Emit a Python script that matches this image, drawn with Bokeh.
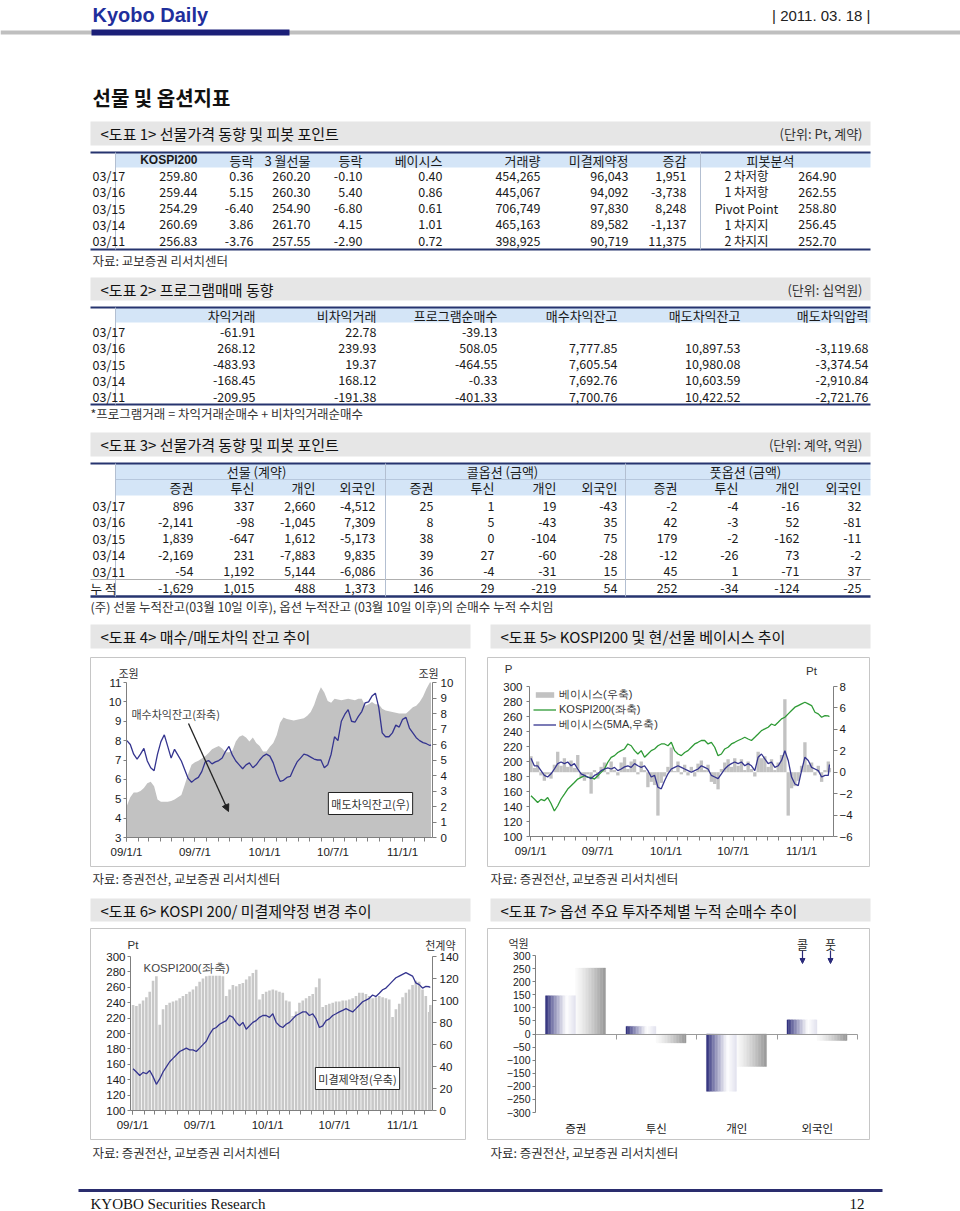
import pandas as pd
from bokeh.plotting import figure
from bokeh.layouts import column, row
from bokeh.models import (Range1d, LinearAxis, FixedTicker, Label, Arrow, NormalHead,
                          Spacer, Legend, LegendItem, CustomJSTickFormatter)
from bokeh.core.properties import value
from bokeh.embed import file_html
from bokeh.resources import INLINE

# ------------------------------------------------------------------ data
ROW_DATES = ["03/17", "03/16", "03/15", "03/14", "03/11"]

# <도표 1>
T1_KOSPI200 = [259.80, 259.44, 254.29, 260.69, 256.83]
T1_KOSPI_CHG = [0.36, 5.15, -6.40, 3.86, -3.76]
T1_FUTURES = [260.20, 260.30, 254.90, 261.70, 257.55]
T1_FUT_CHG = [-0.10, 5.40, -6.80, 4.15, -2.90]
T1_BASIS = [0.40, 0.86, 0.61, 1.01, 0.72]
T1_VOLUME = [454265, 445067, 706749, 465163, 398925]
T1_OPEN_INT = [96043, 94092, 97830, 89582, 90719]
T1_OI_CHG = [1951, -3738, 8248, -1137, 11375]
T1_HEADERS = ["KOSPI200", "등락", "3 월선물", "등락", "베이시스", "거래량", "미결제약정", "증감"]
T1_PIVOT_LABELS = ["2 차저항", "1 차저항", "Pivot Point", "1 차지지", "2 차지지"]
T1_PIVOT = [264.90, 262.55, 258.80, 256.45, 252.70]

# <도표 2>
T2_HEADERS = ["차익거래", "비차익거래", "프로그램순매수", "매수차익잔고", "매도차익잔고", "매도차익압력"]
T2_ARB = [-61.91, 268.12, -483.93, -168.45, -209.95]
T2_NON_ARB = [22.78, 239.93, 19.37, 168.12, -191.38]
T2_NET = [-39.13, 508.05, -464.55, -0.33, -401.33]
T2_BUY_BAL = [None, 7777.85, 7605.54, 7692.76, 7700.76]
T2_SELL_BAL = [None, 10897.53, 10980.08, 10603.59, 10422.52]
T2_SELL_PRESS = [None, -3119.68, -3374.54, -2910.84, -2721.76]

# <도표 3>  (5 days + 누적)
T3_GROUPS = ["선물 (계약)", "콜옵션 (금액)", "풋옵션 (금액)"]
T3_SUBHEADERS = ["증권", "투신", "개인", "외국인"]
FUT_SEC = [896, -2141, 1839, -2169, -54, -1629]
FUT_TRUST = [337, -98, -647, 231, 1192, 1015]
FUT_INDIV = [2660, -1045, 1612, -7883, 5144, 488]
FUT_FOREIGN = [-4512, 7309, -5173, 9835, -6086, 1373]
CALL_SEC = [25, 8, 38, 39, 36, 146]
CALL_TRUST = [1, 5, 0, 27, -4, 29]
CALL_INDIV = [19, -43, -104, -60, -31, -219]
CALL_FOREIGN = [-43, 35, 75, -28, 15, 54]
PUT_SEC = [-2, 42, 179, -12, 45, 252]
PUT_TRUST = [-4, -3, -2, -26, 1, -34]
PUT_INDIV = [-16, 52, -162, 73, -71, -124]
PUT_FOREIGN = [32, -81, -11, -2, 37, -25]

# time series (approx. every 9 days)
DATES = [
    "2009-01-02", "2009-01-11", "2009-01-20", "2009-01-29", "2009-02-07", "2009-02-16", "2009-02-25", "2009-03-06", "2009-03-15", "2009-03-24",
    "2009-04-02", "2009-04-11", "2009-04-20", "2009-04-29", "2009-05-08", "2009-05-17", "2009-05-26", "2009-06-04", "2009-06-13", "2009-06-22",
    "2009-07-01", "2009-07-10", "2009-07-19", "2009-07-28", "2009-08-06", "2009-08-15", "2009-08-24", "2009-09-02", "2009-09-11", "2009-09-20",
    "2009-09-29", "2009-10-08", "2009-10-17", "2009-10-26", "2009-11-04", "2009-11-13", "2009-11-22", "2009-12-01", "2009-12-10", "2009-12-19",
    "2009-12-28", "2010-01-06", "2010-01-15", "2010-01-24", "2010-02-02", "2010-02-11", "2010-02-20", "2010-03-01", "2010-03-10", "2010-03-19",
    "2010-03-28", "2010-04-06", "2010-04-15", "2010-04-24", "2010-05-03", "2010-05-12", "2010-05-21", "2010-05-30", "2010-06-08", "2010-06-17",
    "2010-06-26", "2010-07-05", "2010-07-14", "2010-07-23", "2010-08-01", "2010-08-10", "2010-08-19", "2010-08-28", "2010-09-06", "2010-09-15",
    "2010-09-24", "2010-10-03", "2010-10-12", "2010-10-21", "2010-10-30", "2010-11-08", "2010-11-17", "2010-11-26", "2010-12-05", "2010-12-14",
    "2010-12-23", "2011-01-01", "2011-01-10", "2011-01-19", "2011-01-28", "2011-02-06", "2011-02-15", "2011-02-24", "2011-03-05", "2011-03-14",
    "2011-03-17"]

# <도표 4> 매수차익잔고 (좌축, 조원) / 매도차익잔고 (우축, 조원)
BUY_ARB_BAL = [
    8.0, 7.8, 7.3, 7.05, 7.3, 7.6, 6.95, 6.6, 6.45, 7.3,
    7.95, 8.3, 7.7, 7.1, 7.55, 7.25, 6.95, 6.5, 6.05, 5.85,
    6.0, 6.1, 6.4, 6.9, 6.97, 6.8, 6.9, 6.97, 7.1, 7.45,
    7.7, 7.25, 6.95, 6.75, 6.55, 6.75, 6.85, 6.6, 6.75, 7.0,
    7.2, 7.3, 7.2, 6.85, 6.3, 5.9, 5.95, 6.1, 6.15, 6.55,
    6.9, 7.1, 7.3, 7.25, 7.15, 7.05, 7.0, 7.0, 6.6, 6.75,
    7.3, 8.2, 8.0, 9.0, 9.35, 9.6, 9.0, 8.95, 9.25, 9.5,
    9.95, 10.0, 10.3, 10.45, 9.7, 8.4, 8.2, 8.2, 8.4, 8.8,
    8.7, 9.1, 9.2, 8.65, 8.4, 8.15, 8.0, 7.9, 7.84, 7.75,
    7.78]
SELL_ARB_BAL = [
    2.05, 2.6, 2.9, 2.9, 3.0, 3.2, 3.5, 3.6, 3.3, 2.45,
    2.3, 2.3, 2.3, 2.35, 2.45, 2.6, 2.75, 3.4, 4.1, 4.7,
    4.85, 4.95, 5.1, 5.25, 5.45, 5.7, 5.8, 5.9, 5.75, 5.5,
    5.5, 5.6, 6.2, 6.5, 6.6, 6.45, 6.2, 6.45, 6.1, 5.9,
    5.55, 5.55, 5.85, 6.1, 6.6, 7.4, 7.75, 7.65, 7.6, 7.55,
    7.6, 7.65, 7.7, 7.85, 8.1, 8.55, 9.2, 9.7, 9.35, 8.8,
    8.7, 8.95, 8.9, 8.85, 8.9, 8.95, 8.9, 8.85, 8.95, 8.95,
    8.5, 8.6, 8.75, 8.6, 8.6, 8.3, 8.2, 8.15, 8.1, 8.05,
    8.0, 8.0, 8.0, 8.2, 8.4, 8.5, 8.75, 9.1, 9.6, 10.42,
    10.9]

# <도표 5>/<도표 6> KOSPI200 (P)
KOSPI200 = [
    154.3, 150.0, 145.4, 149.5, 147.7, 152.0, 144.0, 134.0, 141.0, 150.0,
    156.6, 163.3, 167.7, 172.0, 176.6, 178.8, 181.0, 178.8, 178.8, 176.6,
    181.0, 185.5, 190.0, 199.0, 205.6, 207.8, 212.0, 214.5, 216.7, 223.4,
    221.0, 214.5, 210.0, 214.5, 205.6, 210.0, 214.5, 216.7, 221.0, 223.4,
    223.4, 221.0, 225.6, 214.5, 210.0, 207.8, 212.0, 214.5, 219.0, 223.4,
    225.6, 228.0, 228.0, 223.4, 225.6, 219.0, 207.8, 210.0, 216.7, 219.0,
    223.4, 225.6, 228.0, 230.0, 232.3, 230.0, 228.0, 232.3, 236.7, 241.2,
    243.4, 245.7, 250.0, 248.0, 252.3, 256.8, 259.0, 263.5, 268.0, 272.4,
    274.6, 276.8, 279.0, 276.8, 274.6, 265.7, 263.5, 259.0, 261.2, 260.7,
    259.8]
# <도표 5> 베이시스 (Pt) and its 5-day average
BASIS = [
    1.5, 0.4, 1.0, -0.3, -0.8, -0.2, -0.6, 0.7, 1.9, 0.6,
    1.3, 0.5, 1.1, 0.4, 1.6, -0.5, -0.8, -0.2, -2.0, 0.2,
    -0.6, 0.5, 0.9, -0.2, 1.0, 0.2, -0.3, 0.9, 1.4, 0.3,
    1.0, 1.2, -0.2, 1.0, 0.2, -1.4, -0.9, -1.2, -4.05, -1.0,
    -0.4, 0.5, 2.3, 0.1, 1.0, -0.2, 0.7, -0.3, 0.5, -0.4,
    0.8, 1.1, 0.2, 0.7, -0.9, -1.1, -1.6, 0.3, 0.9, 1.2,
    0.5, 1.3, 0.6, 1.2, 0.2, 1.0, 0.3, -0.4, 1.9, 1.3,
    1.5, 0.5, 1.2, 0.2, 0.9, 1.6, 6.8, -4.05, -1.5, -1.3,
    -0.8, 0.6, 2.8, 0.7, 0.9, -0.3, 0.6, -0.9, 0.2, 1.01,
    0.40]
BASIS_MA5 = [
    1.3, 0.6, 0.6, 0.15, -0.3, -0.45, -0.15, 0.3, 0.8, 0.95,
    0.8, 0.95, 0.6, 0.8, 0.3, -0.15, -0.3, -0.45, -0.6, -0.3,
    -0.15, 0.15, 0.3, 0.4, 0.3, 0.45, 0.15, 0.3, 0.5, 0.6,
    0.45, 0.8, 0.6, 0.45, 0.6, 0.15, -0.45, -0.3, -1.4, -1.55,
    -0.8, -0.15, 0.3, 0.45, 0.6, 0.45, 0.3, 0.15, 0.0, 0.15,
    0.3, 0.6, 0.45, 0.3, -0.3, -0.45, -0.6, -0.15, 0.3, 0.6,
    0.8, 0.95, 0.8, 0.95, 0.6, 0.8, 0.6, 0.15, 1.4, 1.7,
    1.25, 0.8, 0.95, 0.45, 0.6, 1.1, 2.0, 1.1, -0.45, -1.1,
    -1.25, 0.15, 1.4, 1.1, 0.45, 0.3, 0.15, -0.45, -0.3, -0.3,
    0.72]
# <도표 6> 미결제약정 (천계약)
OPEN_INTEREST = [
    96, 95, 97, 100, 103, 108, 118, 122, 78, 92,
    96, 98, 99, 100, 102, 104, 106, 108, 110, 113,
    117, 120, 122, 122.5, 122.5, 122.5, 122.5, 122, 104, 110,
    114, 113, 115, 116, 119, 122, 125, 128, 101, 106,
    108, 109, 110, 109, 108, 107, 100, 99, 86, 90,
    98, 100, 102, 104, 106, 112, 120, 94, 96, 97,
    98, 99, 99, 100, 100, 101, 102, 104, 107, 107,
    106, 104, 102, 103, 104, 103, 102, 101, 85, 92,
    97, 103, 107, 110, 114, 118, 117, 110, 104, 89.6,
    96.0]

# <도표 7> 옵션 누적 순매수 (억원)
OPT_INVESTORS = ["증권", "투신", "개인", "외국인"]
CALL_CUM = [146, 29, -219, 54]
PUT_CUM = [252, -34, -124, -25]

XTICK_DATES = ["2009-01-01", "2009-07-01", "2010-01-01", "2010-07-01", "2011-01-01"]

# ------------------------------------------------------------------ styles
KR = "Noto Sans CJK KR"
NUM = "Noto Sans CJK KR"
SANS = "Liberation Sans"
SERIF = "Liberation Serif"
RULE = "#26346f"
HDR_BLUE = "#d4e5f7"
BAR_BG = "#e6e6e6"
AXIS_GRAY = "#7f7f7f"
BOX_GRAY = "#c6c6c6"
LINE_NAVY = "#34348f"
LINE_GREEN = "#2e9a35"
DAY_MS = 86400000


def ms(d):
    return pd.Timestamp(d).timestamp() * 1000


DT = pd.to_datetime(DATES)
XTICK_MS = [ms(d) for d in XTICK_DATES]
MINOR_MS = [t.timestamp() * 1000 for t in pd.date_range("2009-01-01", "2011-03-01", freq="MS")]
DATE_JS = """
const d = new Date(tick);
const y = String(d.getUTCFullYear() % 100).padStart(2, '0');
return y + '/' + (d.getUTCMonth() + 1) + '/' + d.getUTCDate();
"""


def page_fig(height, y_top, y_bottom):
    p = figure(width=960, height=height, x_range=Range1d(0, 960), y_range=Range1d(y_bottom, y_top),
               output_backend="svg", toolbar_location=None, min_border=0,
               x_axis_location=None, y_axis_location=None)
    p.grid.visible = False
    p.outline_line_color = None
    return p


def put_text(p, xs, ys, texts, font=KR, size="13px", align="left", color="#1a1a1a", style="normal"):
    p.text(x=xs, y=ys, text=texts, text_font=value(font), text_font_size=size,
           text_align=align, text_baseline="middle", text_color=color, text_font_style=style)


def hline(p, x0, x1, y, color, width):
    p.segment(x0=[x0], y0=[y], x1=[x1], y1=[y], line_color=color, line_width=width)


def vline(p, x, y0, y1, color="#b3bfd1", width=1):
    p.segment(x0=[x], y0=[y0], x1=[x], y1=[y1], line_color=color, line_width=width)


def title_bar(p, x0, x1, y0, y1, text, unit=None):
    p.quad(left=[x0], right=[x1], top=[y0], bottom=[y1], fill_color=BAR_BG, line_color=None)
    put_text(p, [x0 + 10], [(y0 + y1) / 2], [text], size="15px", color="#111111")
    if unit:
        put_text(p, [x1 - 8], [(y0 + y1) / 2], [unit], size="13px", align="right", color="#333333")


def f2(v):
    return "" if v is None else f"{v:,.2f}"


def fi(v):
    return f"{v:,}"


# ------------------------------------------------------------------ top page part
top = page_fig(655, 0, 655)
hline(top, 0, 960, 32, "#bfbfbf", 4)
hline(top, 91, 289, 32, "#1b1f78", 6)
put_text(top, [92], [14], ["Kyobo Daily"], font=SANS, size="20px", color="#1f2f9c", style="bold")
put_text(top, [870], [15], ["| 2011. 03. 18 |"], font=SANS, size="15px", align="right", color="#222222")
put_text(top, [92], [97], ["선물 및 옵션지표"], size="20px", style="bold", color="#111111")

# table 1
title_bar(top, 90, 870, 121, 145, "<도표 1> 선물가격 동향 및 피봇 포인트", "(단위: Pt, 계약)")
top.quad(left=[115], right=[870], top=[152], bottom=[167], fill_color=HDR_BLUE, line_color=None)
hline(top, 90, 870, 152, RULE, 2)
hline(top, 90, 870, 249, RULE, 2)
vline(top, 115, 152, 249)
vline(top, 700, 152, 249)
T1_X = [197, 253, 310, 362, 442, 540, 628, 686]
T1_Y = [175, 191.3, 207.6, 223.9, 240.2]
put_text(top, [T1_X[0]], [159.5], [T1_HEADERS[0]], font=SANS, size="12px", align="right", style="bold")
put_text(top, T1_X[1:], [159.5] * 7, T1_HEADERS[1:], size="13px", align="right")
put_text(top, [770], [159.5], ["피봇분석"], size="13px", align="center")
put_text(top, [92] * 5, T1_Y, ROW_DATES, font=NUM, size="12.5px")
t1_cols = [[f2(v) for v in T1_KOSPI200], [f2(v) for v in T1_KOSPI_CHG], [f2(v) for v in T1_FUTURES],
           [f2(v) for v in T1_FUT_CHG], [f2(v) for v in T1_BASIS], [fi(v) for v in T1_VOLUME],
           [fi(v) for v in T1_OPEN_INT], [fi(v) for v in T1_OI_CHG]]
for xr, col in zip(T1_X, t1_cols):
    put_text(top, [xr] * 5, T1_Y, col, font=NUM, size="12.5px", align="right")
put_text(top, [746] * 5, T1_Y, T1_PIVOT_LABELS, size="12.5px", align="center")
put_text(top, [836] * 5, T1_Y, [f2(v) for v in T1_PIVOT], font=NUM, size="12.5px", align="right")
put_text(top, [92], [260], ["자료: 교보증권 리서치센터"], size="12.5px", color="#333333")

# table 2
title_bar(top, 90, 870, 277, 300, "<도표 2> 프로그램매매 동향", "(단위: 십억원)")
top.quad(left=[115], right=[870], top=[307], bottom=[322], fill_color=HDR_BLUE, line_color=None)
hline(top, 90, 870, 307, RULE, 2)
hline(top, 90, 870, 404, RULE, 2)
vline(top, 115, 307, 404)
T2_X = [255, 376, 497, 617, 740, 868]
T2_Y = [331, 347.3, 363.6, 379.9, 396.2]
put_text(top, T2_X, [314.5] * 6, T2_HEADERS, size="13px", align="right")
put_text(top, [92] * 5, T2_Y, ROW_DATES, font=NUM, size="12.5px")
for xr, col in zip(T2_X, [T2_ARB, T2_NON_ARB, T2_NET, T2_BUY_BAL, T2_SELL_BAL, T2_SELL_PRESS]):
    put_text(top, [xr] * 5, T2_Y, [f2(v) for v in col], font=NUM, size="12.5px", align="right")
put_text(top, [90], [413], ["*프로그램거래 = 차익거래순매수 + 비차익거래순매수"], size="12.5px", color="#333333")

# table 3
title_bar(top, 90, 870, 432, 456, "<도표 3> 선물가격 동향 및 피봇 포인트", "(단위: 계약, 억원)")
top.quad(left=[115], right=[870], top=[463], bottom=[495], fill_color=HDR_BLUE, line_color=None)
hline(top, 90, 870, 463, RULE, 2)
hline(top, 115, 870, 479, "#aebfd6", 0.8)
hline(top, 90, 870, 579, "#9a9a9a", 0.8)
hline(top, 90, 870, 596, RULE, 2.5)
for xv in [115, 385, 625]:
    vline(top, xv, 463, 596)
T3_X = [193, 254, 315, 375, 433, 494, 556, 617, 677, 738, 799, 861]
T3_Y = [505, 521.4, 537.8, 554.2, 570.6, 587.5]
put_text(top, [256, 502, 745], [471] * 3, T3_GROUPS, size="13px", align="center")
put_text(top, T3_X, [487] * 12, T3_SUBHEADERS * 3, size="13px", align="right")
put_text(top, [92] * 5, T3_Y[:5], ROW_DATES, font=NUM, size="12.5px")
put_text(top, [103], [T3_Y[5]], ["누 적"], size="12.5px", align="center")
t3_cols = [FUT_SEC, FUT_TRUST, FUT_INDIV, FUT_FOREIGN, CALL_SEC, CALL_TRUST, CALL_INDIV, CALL_FOREIGN,
           PUT_SEC, PUT_TRUST, PUT_INDIV, PUT_FOREIGN]
for xr, col in zip(T3_X, t3_cols):
    put_text(top, [xr] * 6, T3_Y, [fi(v) for v in col], font=NUM, size="12.5px", align="right")
put_text(top, [90], [606], ["(주) 선물 누적잔고(03월 10일 이후), 옵션 누적잔고 (03월 10일 이후)의 순매수 누적 수치임"],
         size="12.5px", color="#333333")

title_bar(top, 90, 470, 624, 648, "<도표 4> 매수/매도차익 잔고 추이")
title_bar(top, 490, 870, 624, 648, "<도표 5> KOSPI200 및 현/선물 베이시스 추이")


# ------------------------------------------------------------------ chart helpers
def style_axis(ax, tick_out=4, standoff=3, size="11.5px", minor=False, font=SANS):
    ax.axis_line_color = AXIS_GRAY
    ax.major_tick_line_color = AXIS_GRAY
    ax.major_tick_in = 0
    ax.major_tick_out = tick_out
    ax.minor_tick_in = 0
    ax.minor_tick_out = tick_out if minor else 0
    ax.minor_tick_line_color = AXIS_GRAY if minor else None
    ax.major_label_standoff = standoff
    ax.major_label_text_font = font
    ax.major_label_text_font_size = size
    ax.major_label_text_color = "#1a1a1a"


def span_range(lo, hi, px_lo, px_hi, px_total):
    """range whose [lo, hi] falls on pixels [px_lo, px_hi] of a px_total-wide canvas"""
    k = (hi - lo) / (px_hi - px_lo)
    return Range1d(lo - px_lo * k, hi + (px_total - px_hi) * k)


def chart_box(width, height, plot_px, x_span, y_span):
    l, r, t, b = plot_px          # plot area in px from the box's top-left corner
    p = figure(width=width, height=height,
               x_range=span_range(x_span[0], x_span[1], l, r, width),
               y_range=span_range(y_span[0], y_span[1], height - b, height - t, height),
               output_backend="svg", toolbar_location=None, min_border=0,
               x_axis_location=None, y_axis_location=None)
    p.grid.visible = False
    p.outline_line_color = BOX_GRAY
    p.outline_line_width = 1
    return p


def right_range(p, plot_px, height, span):
    l, r, t, b = plot_px
    p.extra_y_ranges = {"r": span_range(span[0], span[1], height - b, height - t, height)}


def y_axis(p, side, loc, bounds, ticks, range_name="default", tick_out=3, standoff=2, size="11.5px",
           formatter=None):
    ax = LinearAxis(y_range_name=range_name, fixed_location=loc, bounds=bounds, ticker=FixedTicker(ticks=ticks))
    if formatter is not None:
        ax.formatter = formatter
    style_axis(ax, tick_out=tick_out, standoff=standoff, size=size)
    p.add_layout(ax, side)
    return ax


def date_axis(p, loc, x_span):
    ax = LinearAxis(fixed_location=loc, bounds=x_span,
                    ticker=FixedTicker(ticks=XTICK_MS, minor_ticks=MINOR_MS),
                    formatter=CustomJSTickFormatter(code=DATE_JS))
    style_axis(ax, tick_out=4, standoff=4, minor=True)
    p.add_layout(ax, "below")


def slabel(p, sx, sy, text, size="11px", align="left", color="#333333", font=KR, **kw):
    p.add_layout(Label(x=sx, y=sy, x_units="screen", y_units="screen", text=text, text_font=font,
                       text_font_size=size, text_align=align, text_baseline="middle", text_color=color, **kw))


def sarrow(p, x0, y0, x1, y1, color, size, width):
    p.add_layout(Arrow(x_start=x0, y_start=y0, x_end=x1, y_end=y1, start_units="screen", end_units="screen",
                       line_color=color, line_width=width,
                       end=NormalHead(size=size, fill_color=color, line_color=color)))


# ------------------------------------------------------------------ chart 4
C4_PX = (36, 342, 25, 180)
C4_X = (ms("2009-01-01"), ms("2011-03-21"))
p4 = chart_box(376, 210, C4_PX, C4_X, (3, 11))
right_range(p4, C4_PX, 210, (0, 10))
p4.varea(x=DT, y1=0, y2=[min(v, 10) for v in SELL_ARB_BAL], y_range_name="r", fill_color="#c2c2c2")
p4.line(x=DT, y=BUY_ARB_BAL, line_color=LINE_NAVY, line_width=1.3)
y_axis(p4, "left", C4_X[0], (3, 11), list(range(3, 12)), tick_out=3, standoff=2)
y_axis(p4, "right", C4_X[1], (0, 10), list(range(0, 11)), range_name="r", tick_out=4, standoff=4)
date_axis(p4, 3, C4_X)
slabel(p4, 38, 195, "조원", align="center")
slabel(p4, 338, 195, "조원", align="center")
slabel(p4, 41, 154, "매수차익잔고(좌축)", color="#444444")
sarrow(p4, 98, 144, 138, 56, "#222222", 7, 1.3)
slabel(p4, 280, 64, "매도차익잔고(우)", align="center", color="#333333",
       background_fill_color="white", border_line_color="#222222", border_line_width=1, padding=3)

# ------------------------------------------------------------------ chart 5
C5_PX = (42, 346, 29, 179)
C5_X = (ms("2008-12-29"), ms("2011-03-28"))
p5 = chart_box(383, 210, C5_PX, C5_X, (100, 300))
right_range(p5, C5_PX, 210, (-6, 8))
r_basis = p5.vbar(x=DT, top=BASIS, bottom=0, width=9 * DAY_MS, y_range_name="r",
                  fill_color="#c2c2c2", line_color=None)
r_kospi = p5.line(x=DT, y=KOSPI200, line_color=LINE_GREEN, line_width=1.3)
r_ma = p5.line(x=DT, y=BASIS_MA5, y_range_name="r", line_color=LINE_NAVY, line_width=1.3)
y_axis(p5, "left", C5_X[0], (100, 300), list(range(100, 301, 20)), tick_out=3, standoff=4)
y_axis(p5, "right", C5_X[1], (-6, 8), list(range(-6, 9, 2)), range_name="r", tick_out=4, standoff=2)
date_axis(p5, 100, C5_X)
slabel(p5, 21, 199, "P", align="center", font=SANS, size="11.5px")
slabel(p5, 324, 197, "Pt", align="center", font=SANS, size="11.5px")
leg = Legend(items=[LegendItem(label="베이시스(우축)", renderers=[r_basis]),
                    LegendItem(label="KOSPI200(좌축)", renderers=[r_kospi]),
                    LegendItem(label="베이시스(5MA,우축)", renderers=[r_ma])],
             location=(44, 133), margin=0, padding=2, spacing=-7, glyph_width=23, glyph_height=7,
             label_height=12, label_standoff=3, border_line_alpha=0, background_fill_alpha=0,
             label_text_font=SANS, label_text_font_size="11px", label_text_color="#333333")
p5.add_layout(leg)

# ------------------------------------------------------------------ chart 6
C6_PX = (40, 342, 28, 182)
C6_X = (ms("2008-12-26"), ms("2011-03-23"))
p6 = chart_box(376, 212, C6_PX, C6_X, (100, 300))
right_range(p6, C6_PX, 212, (0, 140))
p6.vbar(x=DT, top=OPEN_INTEREST, bottom=0, width=7 * DAY_MS, y_range_name="r",
        fill_color="#c8c8c8", line_color=None)
p6.line(x=DT, y=KOSPI200, line_color=LINE_NAVY, line_width=1.3)
y_axis(p6, "left", C6_X[0], (100, 300), list(range(100, 301, 20)), tick_out=3, standoff=2)
y_axis(p6, "right", C6_X[1], (0, 140), list(range(0, 141, 20)), range_name="r", tick_out=4, standoff=3)
date_axis(p6, 100, C6_X)
slabel(p6, 37, 196, "Pt", font=SANS, size="11.5px")
slabel(p6, 365, 196, "천계약", align="right")
slabel(p6, 53, 173, "KOSPI200(좌축)", color="#444444", font=SANS, size="11.5px")
slabel(p6, 267, 62, "미결제약정(우축)", align="center", color="#333333",
       background_fill_color="white", border_line_color="#222222", border_line_width=1, padding=3)

# ------------------------------------------------------------------ chart 7
C7_PX = (48, 370, 27, 184)
p7 = chart_box(383, 212, C7_PX, (0, 4), (-300, 300))


def mix(c1, c2, t):
    return "#%02x%02x%02x" % tuple(int(round(a + (b - a) * t)) for a, b in zip(c1, c2))


def call_col(t):
    if t < 0.7:
        return mix((38, 38, 118), (255, 255, 255), (t / 0.7) ** 0.85)
    return mix((255, 255, 255), (226, 226, 238), (t - 0.7) / 0.3)


def put_col(t):
    return mix((250, 250, 250), (150, 150, 150), t ** 1.3)


N_STRIP = 20
BAR_W = 0.373
for k in range(N_STRIP):
    t = (k + 0.5) / N_STRIP
    dx = 0.124 + t * BAR_W
    c1, c2 = call_col(t), put_col(t)
    p7.vbar(x=[i + dx for i in range(4)], top=CALL_CUM, bottom=0, width=BAR_W / N_STRIP,
            fill_color=c1, line_color=c1, line_width=0.4)
    p7.vbar(x=[i + dx + BAR_W for i in range(4)], top=PUT_CUM, bottom=0, width=BAR_W / N_STRIP,
            fill_color=c2, line_color=c2, line_width=0.4)

y_axis(p7, "left", 0, (-300, 300), list(range(-300, 301, 50)), tick_out=3, standoff=2, size="10.5px",
       formatter=CustomJSTickFormatter(code="return tick < 0 ? '\u2212' + (-tick) : String(tick);"))
cat_ax = LinearAxis(fixed_location=-300, ticker=FixedTicker(ticks=[0.5, 1.5, 2.5, 3.5]),
                    formatter=CustomJSTickFormatter(args=dict(labels=OPT_INVESTORS),
                                                    code="return labels[Math.floor(tick)];"))
style_axis(cat_ax, tick_out=0, standoff=7, size="11.5px", font=KR)
cat_ax.axis_line_color = None
cat_ax.major_tick_line_color = None
p7.add_layout(cat_ax, "below")
zero_ax = LinearAxis(fixed_location=0, bounds=(0, 4), ticker=FixedTicker(ticks=[1, 2, 3, 4]))
zero_ax.axis_line_color = "#9a9a9a"
zero_ax.major_tick_line_color = "#9a9a9a"
zero_ax.major_tick_in = 0
zero_ax.major_tick_out = 5
zero_ax.minor_tick_line_color = None
zero_ax.major_label_text_font_size = "0px"
zero_ax.major_label_standoff = 0
p7.add_layout(zero_ax, "below")
slabel(p7, 31, 198, "억원", align="center")
slabel(p7, 315, 196, "콜", align="center", size="12px", color="#222222")
slabel(p7, 343, 196, "풋", align="center", size="12px", color="#222222")
for sx in (315, 343):
    sarrow(p7, sx, 190, sx, 177, "#2a2a7a", 5, 1.2)

# ------------------------------------------------------------------ notes & footer
note = page_fig(55, 870, 925)
put_text(note, [92, 490], [878, 878], ["자료: 증권전산, 교보증권 리서치센터"] * 2, size="12.5px", color="#333333")
title_bar(note, 90, 470, 898, 921, "<도표 6> KOSPI 200/ 미결제약정 변경 추이")
title_bar(note, 490, 870, 898, 921, "<도표 7> 옵션 주요 투자주체별 누적 순매수 추이")

foot = page_fig(68, 1142, 1210)
put_text(foot, [92, 490], [1152, 1152], ["자료: 증권전산, 교보증권 리서치센터"] * 2, size="12.5px", color="#333333")
hline(foot, 78, 882, 1190, "#2a2d6e", 3)
put_text(foot, [90], [1203], ["KYOBO Securities Research"], font=SERIF, size="15px", color="#111111")
put_text(foot, [864], [1203], ["12"], font=SERIF, size="15px", align="right", color="#111111")


def chart_cell(p, w, h_before, h_after):
    return column(Spacer(width=w, height=h_before), p, Spacer(width=w, height=h_after))


row_b = row(Spacer(width=90, height=215), chart_cell(p4, 376, 2, 3), Spacer(width=21, height=215),
            chart_cell(p5, 383, 2, 3), Spacer(width=90, height=215))
row_c = row(Spacer(width=90, height=217), chart_cell(p6, 376, 3, 2), Spacer(width=21, height=217),
            chart_cell(p7, 383, 3, 2), Spacer(width=90, height=217))

page = column(top, row_b, note, row_c, foot)
open("out.html", "w").write(file_html(page, INLINE))
